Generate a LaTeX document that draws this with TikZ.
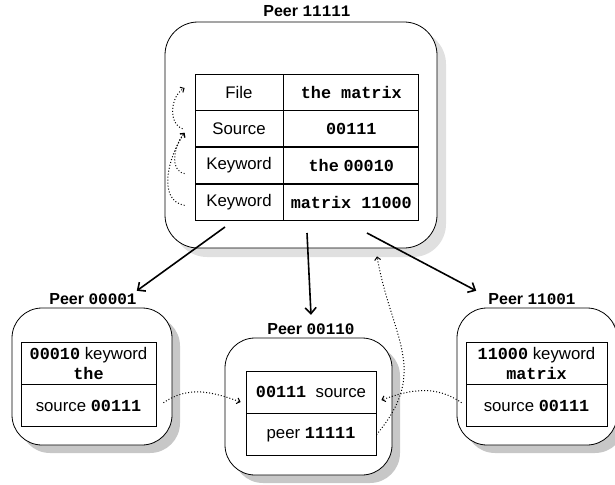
\documentclass[tikz,border=0pt]{standalone}
\usepackage{fontspec}
\setmainfont{Liberation Sans}
\setmonofont{Liberation Mono}
\usepackage{tikz}
\usetikzlibrary{positioning,shadows,arrows.meta}
\newcommand{\bn}[1]{\texttt{\textbf{#1}}}
\newcommand{\peername}[1]{\textbf{Peer} \bn{#1}}

\begin{document}
\begin{tikzpicture}[
    x=1pt, y=-1pt,
    font=\fontsize{16}{19}\selectfont,
    peer/.style={rectangle, draw, line width=0.8pt, fill=white, rounded corners=30pt, minimum width=160pt, minimum height=137pt, general shadow={fill=black!22, shadow xshift=8pt, shadow yshift=-8pt}},
    label/.style={inner sep=0pt, anchor=base},
    cell/.style={rectangle, draw, line width=0.8pt, inner sep=0pt, align=center, minimum height=42pt, font=\fontsize{16.8}{20}\selectfont},
    arrow/.style={-{Straight Barb[length=6pt,width=11pt]}, line width=1.6pt},
    hop/.style={-{Straight Barb[length=3pt,width=6pt]}, dotted, line width=1pt}
]
    \useasboundingbox (0,0) rectangle (615,484);

    % peers
    \node[peer, minimum width=272pt, minimum height=226pt, rounded corners=33pt, general shadow={fill=black!12, shadow xshift=9pt, shadow yshift=-9pt}] (ptop) at (301,135) {};
    \node[peer] (pleft) at (92,376.5) {};
    \node[peer, minimum width=167pt] (pmid) at (308.5,406.5) {};
    \node[peer] (pright) at (537,376.5) {};

    \node[label] (ttop) at (307,17) {\peername{11111}};
    \node[label] (tleft) at (93,304) {\peername{00001}};
    \node[label] (tmid) at (311,334) {\peername{00110}};
    \node[label] (tright) at (532,304) {\peername{11001}};

    % table of peer 11111
    \node[cell, minimum width=88pt, minimum height=36pt] (file) at (239,92) {File};
    \node[cell, minimum width=88pt, minimum height=36pt, below=0pt of file] (src) {Source};
    \node[cell, minimum width=88pt, minimum height=36pt, below=0pt of src] (kw1) {Keyword};
    \node[cell, minimum width=88pt, minimum height=36pt, below=0pt of kw1] (kw2) {Keyword};
    \node[cell, minimum width=135pt, minimum height=36pt, right=0pt of file] (filev) {\bn{the matrix}};
    \node[cell, minimum width=135pt, minimum height=36pt, right=0pt of src] (srcv) {\bn{00111}};
    \node[cell, minimum width=135pt, minimum height=36pt, right=0pt of kw1] (kw1v) {\bn{the} \bn{00010}};
    \node[cell, minimum width=135pt, minimum height=36pt, right=0pt of kw2] (kw2v) {\bn{matrix 11000}};

    % tables of the other peers
    \node[cell, minimum width=135pt] (lkw) at (88.5,363) {\bn{00010} keyword\\\bn{the}};
    \node[cell, minimum width=135pt, below=0pt of lkw] (lsrc) {source \bn{00111}};
    \node[cell, minimum width=130pt] (msrc) at (311,392) {\bn{00111}\ \ source};
    \node[cell, minimum width=130pt, below=0pt of msrc] (mpeer) {peer \bn{11111}};
    \node[cell, minimum width=141pt] (rkw) at (536.5,363) {\bn{11000} keyword\\\bn{matrix}};
    \node[cell, minimum width=141pt, below=0pt of rkw] (rsrc) {source \bn{00111}};

    % queries sent out
    \coordinate (s1) at (225,227);
    \coordinate (s2) at (307,233);
    \coordinate (s3) at (367,233);
    \draw[arrow] (s1) -- ([yshift=2pt]tleft.north east);
    \draw[arrow] (s2) -- ([yshift=8pt]tmid.north);
    \draw[arrow] (s3) -- ([xshift=-12pt,yshift=2pt]tright.north west);

    % links inside the table
    \draw[hop] ([xshift=-12pt]src.west) to[out=160,in=210] ([xshift=-10pt,yshift=4pt]file.west);
    \draw[hop] ([xshift=-10pt,yshift=-8pt]kw1.west) to[out=170,in=230] ([xshift=-10pt,yshift=-4pt]src.west);
    \draw[hop] ([xshift=-10pt,yshift=-3pt]kw2.west) to[out=170,in=235] ([xshift=-10pt,yshift=-4pt]src.west);

    % replies
    \draw[hop] ([xshift=7pt,yshift=3pt]lsrc.east) to[out=35,in=160] ([xshift=-5pt,yshift=-10pt]msrc.west);
    \draw[hop] ([xshift=-4pt,yshift=3pt]rsrc.west) to[out=145,in=20] ([xshift=5pt,yshift=-8pt]msrc.east);
    \draw[hop] (mpeer.east) to[out=50,in=-80,looseness=1.2] ([xshift=76pt,yshift=-8pt]ptop.south);
\end{tikzpicture}
\end{document}
